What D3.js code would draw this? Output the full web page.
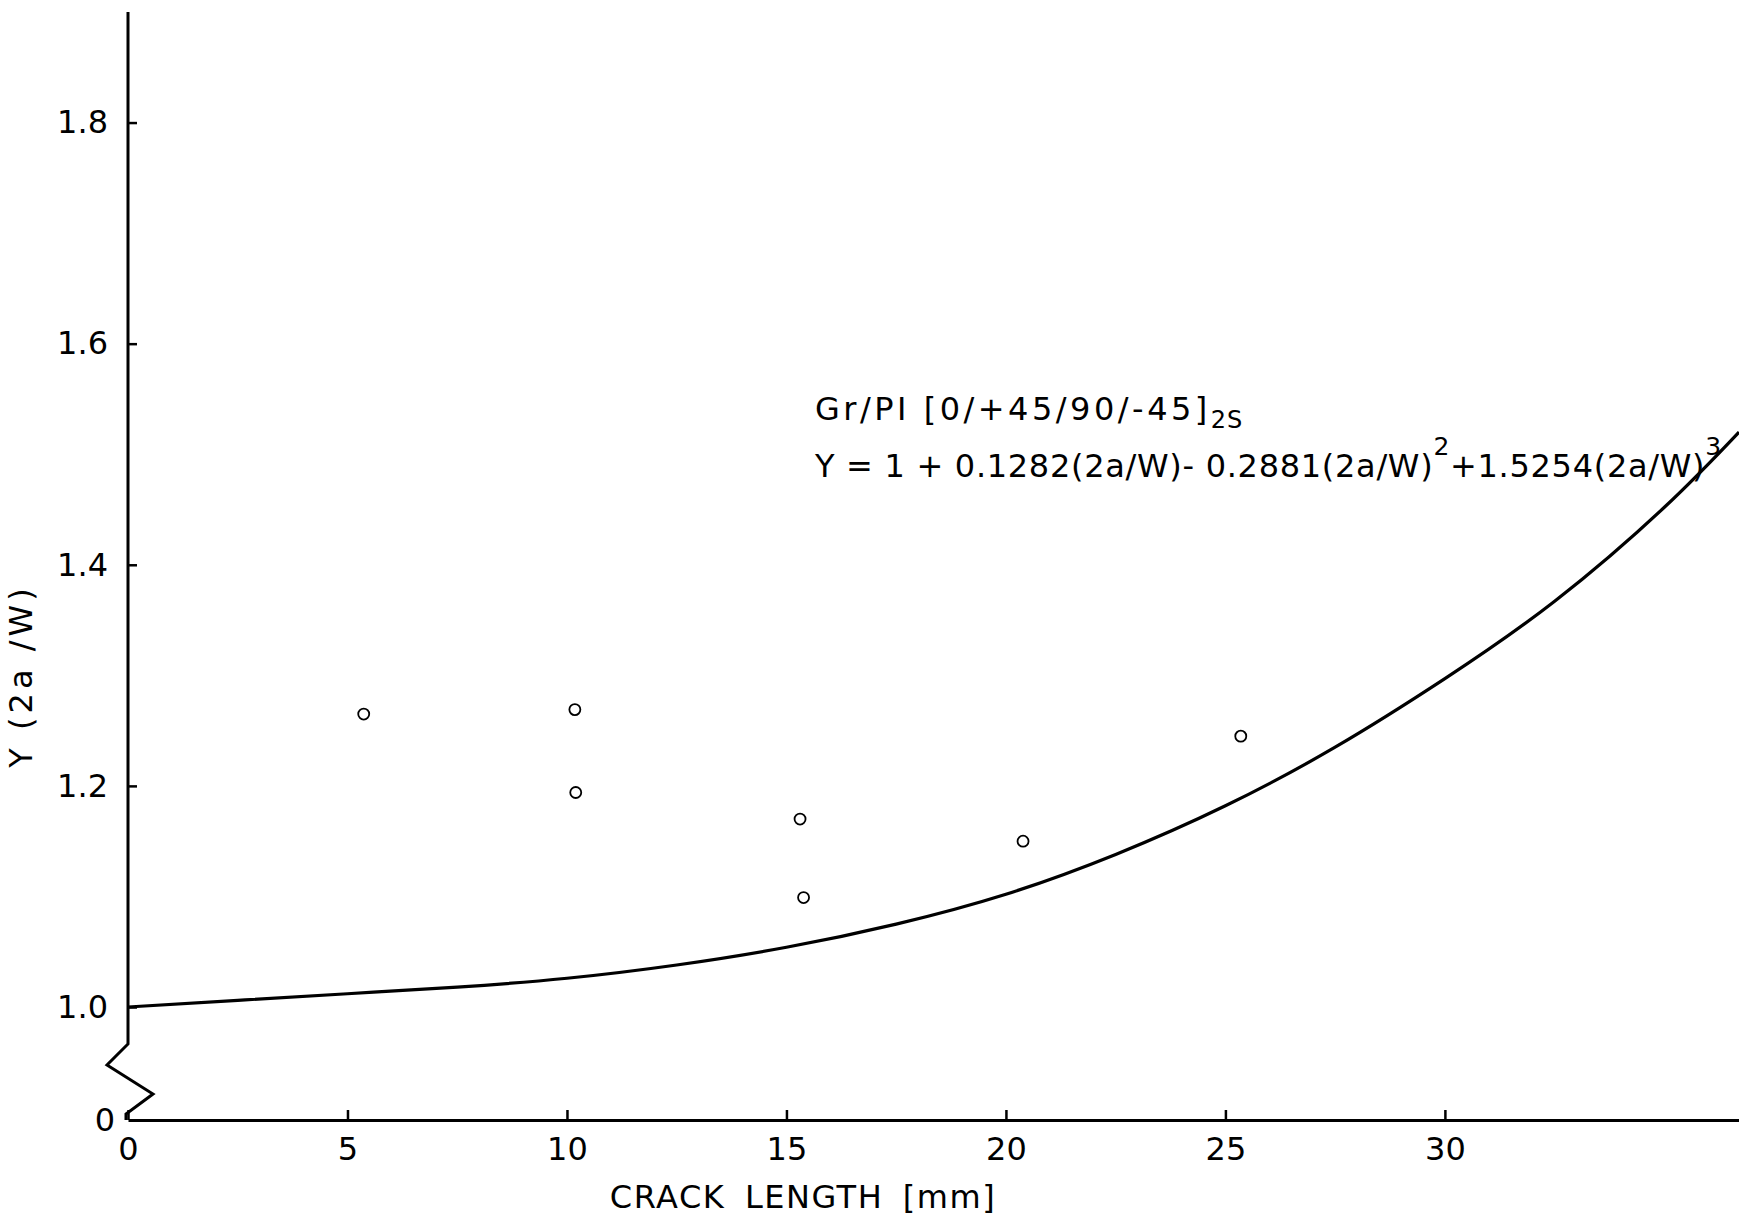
<!DOCTYPE html>
<html>
<head>
<meta charset="utf-8">
<script src="https://cdn.jsdelivr.net/npm/d3@7"></script>
<style>
  body { margin: 0; background: #fff; }
  text { font-family: "DejaVu Sans", sans-serif; fill: #000; }
</style>
</head>
<body>
<script>
// tick values
var xTicks = [0, 5, 10, 15, 20, 25, 30];
var yTicks = [1.0, 1.2, 1.4, 1.6, 1.8];

// fitted curve
var curveX = [0, 2.5, 5, 7.5, 10, 12.5, 15, 17.5, 20, 22.5, 25, 27.5, 30, 32.5, 35, 36.7];
var curveY = [1.000, 1.006, 1.012, 1.018, 1.026, 1.038, 1.054, 1.075, 1.102, 1.138, 1.182, 1.235, 1.297, 1.367, 1.452, 1.520];

// measured points
var ptX = [5.37, 10.18, 10.2, 15.31, 15.39, 20.39, 25.35];
var ptY = [1.265, 1.269, 1.194, 1.170, 1.099, 1.150, 1.245];

var W = 1739, H = 1218;
var svg = d3.select('body').append('svg')
  .attr('width', W).attr('height', H);
svg.append('rect').attr('width', W).attr('height', H).attr('fill', '#fff');

var x = d3.scaleLinear().domain([0, 36.7]).range([128, 1739]);
var y = d3.scaleLinear().domain([1.0, 1.9]).range([1007, 12]);
var baseY = 1120;   // where the broken axis shows "0"

// x axis
var xAxis = d3.axisBottom(x).tickValues(xTicks).tickFormat(d3.format('d'))
  .tickSizeInner(-10).tickSizeOuter(0).tickPadding(17);
var gx = svg.append('g').attr('transform', 'translate(0,' + baseY + ')').call(xAxis);
gx.select('.domain').attr('stroke-width', 3);
gx.selectAll('.tick line').attr('stroke-width', 2.5);
gx.selectAll('text').attr('font-size', 32).attr('fill', '#000');

// y axis (domain drawn by hand because of the break)
var yAxis = d3.axisLeft(y).tickValues(yTicks).tickFormat(d3.format('.1f'))
  .tickSizeInner(-9).tickSizeOuter(0).tickPadding(20);
var gy = svg.append('g').attr('transform', 'translate(' + x(0) + ',0)').call(yAxis);
gy.select('.domain').remove();
gy.selectAll('.tick line').attr('stroke-width', 2.5);
gy.selectAll('text').attr('font-size', 32).attr('fill', '#000');

var x0 = x(0), y1 = y(1.0);
var brk = d3.path();
brk.moveTo(x0, y.range()[1]);
brk.lineTo(x0, y1 + 37);
brk.lineTo(x0 - 21, y1 + 58);
brk.lineTo(x0 + 25, y1 + 87);
brk.lineTo(x0 - 2, baseY - 6);
brk.lineTo(x0 - 2, baseY);
svg.append('path').attr('d', brk.toString())
  .attr('fill', 'none').attr('stroke', '#000').attr('stroke-width', 3)
  .attr('stroke-linejoin', 'miter');

svg.append('text').attr('x', x0 - 13).attr('y', baseY).attr('dy', '0.35em')
  .attr('text-anchor', 'end').attr('font-size', 32).text('0');

// axis titles
svg.append('text').attr('x', 803).attr('y', 1208)
  .attr('text-anchor', 'middle').attr('font-size', 32)
  .attr('letter-spacing', 1.5).attr('word-spacing', 8)
  .text('CRACK LENGTH [mm]');
svg.append('text').attr('transform', 'translate(32,676) rotate(-90)')
  .attr('text-anchor', 'middle').attr('font-size', 32)
  .attr('letter-spacing', 4)
  .text('Y (2a /W)');

// curve
var line = d3.line()
  .x(function(d, i) { return x(curveX[i]); })
  .y(function(d, i) { return y(curveY[i]); })
  .curve(d3.curveNatural);
svg.append('path').datum(curveY).attr('d', line)
  .attr('fill', 'none').attr('stroke', '#000').attr('stroke-width', 3.2);

// points
svg.selectAll('circle.pt').data(ptX).enter().append('circle')
  .attr('class', 'pt')
  .attr('cx', function(d) { return x(d); })
  .attr('cy', function(d, i) { return y(ptY[i]); })
  .attr('r', 5.5)
  .attr('fill', 'none').attr('stroke', '#000').attr('stroke-width', 1.8);

// annotation
var t1 = svg.append('text').attr('x', 815).attr('y', 420).attr('font-size', 32)
  .attr('letter-spacing', 3.5);
t1.append('tspan').text('Gr/PI [0/+45/90/-45]');
t1.append('tspan').attr('dy', 8).attr('font-size', 24).attr('letter-spacing', 1).text('2S');

var t2 = svg.append('text').attr('x', 815).attr('y', 477).attr('font-size', 32)
  .attr('letter-spacing', 0.7);
t2.append('tspan').text('Y = 1 + 0.1282(2a/W)- 0.2881(2a/W)');
t2.append('tspan').attr('dy', -22).attr('font-size', 25).text('2');
t2.append('tspan').attr('dy', 22).text('+1.5254(2a/W)');
t2.append('tspan').attr('dy', -22).attr('font-size', 25).text('3');
</script>
</body>
</html>
